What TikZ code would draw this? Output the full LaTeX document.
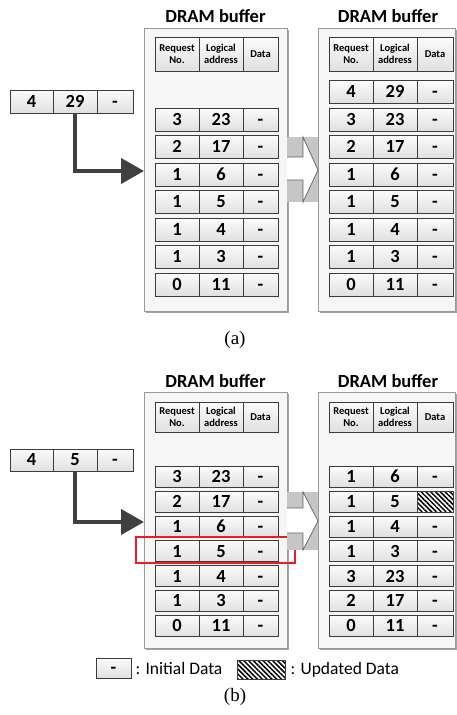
\documentclass[tikz,border=0pt]{standalone}
\usepackage{fontspec}
\setmainfont{Carlito}
\newfontfamily\capfont{Liberation Serif}
\usetikzlibrary{arrows.meta,patterns.meta,shadows}

\definecolor{cellline}{HTML}{3C3C3C}
\definecolor{celltop}{HTML}{FBFBFB}
\definecolor{cellbot}{HTML}{E0E0E0}
\definecolor{bufline}{HTML}{9A9A9A}
\definecolor{buffill}{HTML}{F6F6F6}
\definecolor{bufshadow}{HTML}{A4A4A4}
\definecolor{flow}{HTML}{404040}
\definecolor{blockgray}{HTML}{C6C6C6}
\definecolor{mark}{HTML}{EE1C24}

\begin{document}
\begin{tikzpicture}[x=1pt,y=-1pt,
  cell/.style={draw=cellline, line width=0.8pt, top color=celltop, bottom color=cellbot,
    inner sep=0pt, text height=11.6pt, text depth=0pt,
    font=\bfseries\fontsize{18.5}{18.5}\selectfont},
  head/.style={draw=cellline, line width=0.8pt, top color=celltop, bottom color=cellbot,
    inner sep=0pt, align=center, font=\bfseries\fontsize{10.5}{12.5}\selectfont},
  buffer/.style={draw=bufline, fill=buffill, line width=0.8pt, inner sep=0pt,
    drop shadow={shadow xshift=2.2pt, shadow yshift=-2.2pt, fill=bufshadow, opacity=1}},
  title/.style={font=\bfseries\fontsize{18.5}{18.5}\selectfont, inner sep=0pt},
  feed/.style={draw=flow, line width=4pt, -{Triangle[length=23pt,width=25pt]}},
  block/.style={fill=white, draw=flow!85, line width=0.7pt},
  hatch/.style={draw=cellline, line width=0.8pt, inner sep=0pt, preaction={fill=white},
    pattern={Lines[angle=-45,distance=3.4pt,line width=1.5pt]}},
  caption/.style={font=\capfont\fontsize{19}{19}\selectfont, inner sep=0pt},
  legend/.style={font=\fontsize{17.5}{17.5}\selectfont, anchor=west, inner sep=0pt},
  marker/.style={draw=mark, line width=1.8pt},
]
\useasboundingbox (0,0) rectangle (457,715);
\fill[white] (0,0) rectangle (457,715);

% ---------------- (a) ----------------
\node[buffer, minimum width=143pt, minimum height=283pt] (aL) at (215.5,169.5) {};
\node[buffer, minimum width=137pt, minimum height=283pt] (aR) at (386.5,169.5) {};
\node[title] (aLt) at (215.5,16.5) {DRAM buffer};
\node[title] (aRt) at (388,16.5) {DRAM buffer};

% header rows
\node[head, minimum width=44pt, minimum height=34pt] (aLh1) at (177,54) {Request\\No.};
\node[head, minimum width=44pt, minimum height=34pt] (aLh2) at (221,54) {Logical\\address};
\node[head, minimum width=35pt, minimum height=34pt] (aLh3) at (260.5,54) {Data};
\node[head, minimum width=44pt, minimum height=34pt] (aRh1) at (351,54) {Request\\No.};
\node[head, minimum width=44pt, minimum height=34pt] (aRh2) at (395,54) {Logical\\address};
\node[head, minimum width=36pt, minimum height=34pt] (aRh3) at (435,54) {Data};

% buffer entries
\foreach \k/\r/\l in {1/3/23,2/2/17,3/1/6,4/1/5,5/1/4,6/1/3,7/0/11}{
  \node[cell, minimum width=44pt, minimum height=23pt] (aL\k a) at (177,{92+27.5*\k}) {\r};
  \node[cell, minimum width=44pt, minimum height=23pt] (aL\k b) at (221,{92+27.5*\k}) {\l};
  \node[cell, minimum width=35pt, minimum height=23pt] (aL\k c) at (260.5,{92+27.5*\k}) {-};
}
\foreach \k/\r/\l in {0/4/29,1/3/23,2/2/17,3/1/6,4/1/5,5/1/4,6/1/3,7/0/11}{
  \node[cell, minimum width=44pt, minimum height=23pt] (aR\k a) at (351,{92+27.5*\k}) {\r};
  \node[cell, minimum width=44pt, minimum height=23pt] (aR\k b) at (395,{92+27.5*\k}) {\l};
  \node[cell, minimum width=36pt, minimum height=23pt] (aR\k c) at (435,{92+27.5*\k}) {-};
}

% incoming request
\node[cell, minimum width=43pt, minimum height=23pt] (aS1) at (31.5,101.5) {4};
\node[cell, minimum width=44pt, minimum height=23pt] (aS2) at (75,101.5) {29};
\node[cell, minimum width=36pt, minimum height=23pt] (aS3) at (115,101.5) {-};
\coordinate (aIn) at (144,171);
\draw[feed] (aS2.south) |- (aIn);

% transition arrow
\fill[blockgray] (287,137) rectangle (318,202);
\filldraw[block] (287,157) -- (303,157) -- (303,137) -- (318,170) -- (303,202) -- (303,180) -- (287,180);

\node[caption] (capa) at (235,340) {(a)};

% ---------------- (b) ----------------
\node[buffer, minimum width=143pt, minimum height=256pt] (bL) at (215.5,520) {};
\node[buffer, minimum width=137pt, minimum height=256pt] (bR) at (386.5,520) {};
\node[title] (bLt) at (215.5,381) {DRAM buffer};
\node[title] (bRt) at (388,381) {DRAM buffer};

\node[head, minimum width=44pt, minimum height=30pt] (bLh1) at (177,417) {Request\\No.};
\node[head, minimum width=44pt, minimum height=30pt] (bLh2) at (221,417) {Logical\\address};
\node[head, minimum width=35pt, minimum height=30pt] (bLh3) at (260.5,417) {Data};
\node[head, minimum width=44pt, minimum height=30pt] (bRh1) at (351,417) {Request\\No.};
\node[head, minimum width=44pt, minimum height=30pt] (bRh2) at (395,417) {Logical\\address};
\node[head, minimum width=36pt, minimum height=30pt] (bRh3) at (435,417) {Data};

\foreach \k/\r/\l in {1/3/23,2/2/17,3/1/6,4/1/5,5/1/4,6/1/3,7/0/11}{
  \node[cell, minimum width=44pt, minimum height=21pt] (bL\k a) at (177,{451.7+24.9*\k}) {\r};
  \node[cell, minimum width=44pt, minimum height=21pt] (bL\k b) at (221,{451.7+24.9*\k}) {\l};
  \node[cell, minimum width=35pt, minimum height=21pt] (bL\k c) at (260.5,{451.7+24.9*\k}) {-};
}
\foreach \k/\r/\l in {1/1/6,2/1/5,3/1/4,4/1/3,5/3/23,6/2/17,7/0/11}{
  \node[cell, minimum width=44pt, minimum height=21pt] (bR\k a) at (351,{451.7+24.9*\k}) {\r};
  \node[cell, minimum width=44pt, minimum height=21pt] (bR\k b) at (395,{451.7+24.9*\k}) {\l};
  \node[cell, minimum width=36pt, minimum height=21pt] (bR\k c) at (435,{451.7+24.9*\k}) {-};
}
% updated entry
\node[hatch, minimum width=36pt, minimum height=21pt] (bRupd) at (bR2c) {};

% incoming request
\node[cell, minimum width=43pt, minimum height=22pt] (bS1) at (31.5,460) {4};
\node[cell, minimum width=44pt, minimum height=22pt] (bS2) at (75,460) {5};
\node[cell, minimum width=36pt, minimum height=22pt] (bS3) at (115,460) {-};
\coordinate (bIn) at (144,522);
\draw[feed] (bS2.south) |- (bIn);

% matching entry
\draw[marker] (136,537) rectangle (295,563);

% transition arrow
\fill[blockgray] (287,492) rectangle (318,550);
\filldraw[block] (287,508) -- (303,508) -- (303,492) -- (318,521) -- (303,550) -- (303,533) -- (287,533);

% legend
\node[cell, minimum width=35pt, minimum height=20pt] (lgInit) at (113.5,668) {-};
\node[legend] (lgInitT) at ([xshift=4pt]lgInit.east) {: Initial Data};
\node[hatch, minimum width=48pt, minimum height=19pt] (lgUpd) at (261,669.5) {};
\node[legend] (lgUpdT) at ([xshift=5pt]lgUpd.east) {: Updated Data};

\node[caption] (capb) at (235,697) {(b)};
\end{tikzpicture}
\end{document}
